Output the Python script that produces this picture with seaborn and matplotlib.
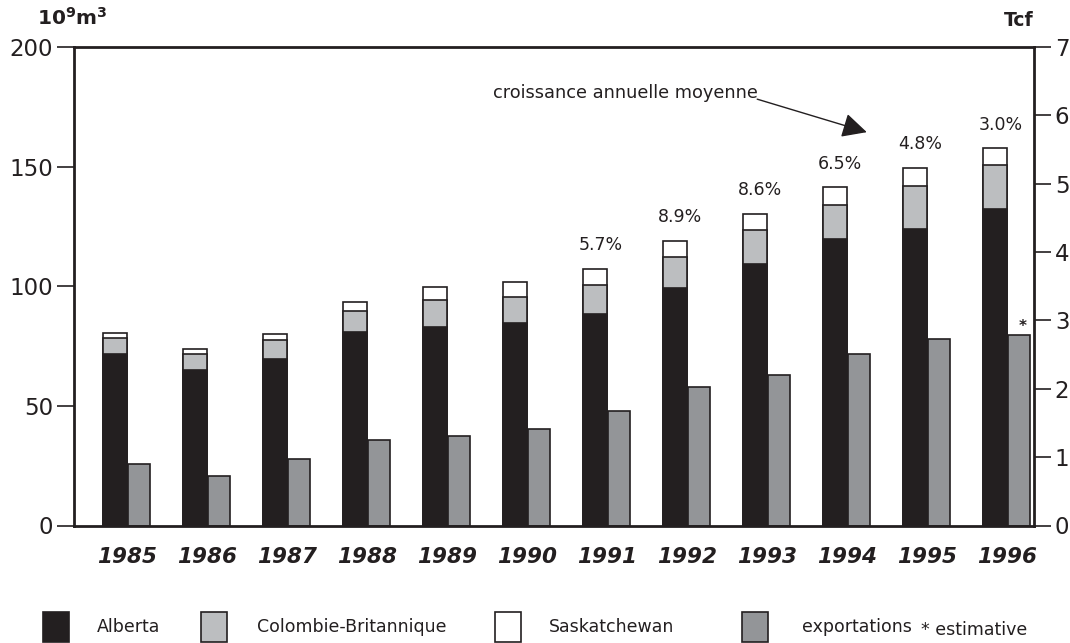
import numpy as np
import pandas as pd
import matplotlib
matplotlib.use('Agg')
import matplotlib.pyplot as plt
from matplotlib.patches import Rectangle
import seaborn as sns

# Data (10^9 m3)
years = [1985, 1986, 1987, 1988, 1989, 1990, 1991, 1992, 1993, 1994, 1995, 1996]
alberta = [71.5, 65.0, 69.5, 81.0, 82.9, 84.7, 88.5, 99.1, 109.1, 119.7, 123.9, 132.1]
colombie = [6.8, 6.6, 8.0, 8.7, 11.4, 10.9, 12.1, 13.1, 14.5, 14.2, 17.9, 18.6]
saskatchewan = [2.1, 2.3, 2.6, 3.9, 5.4, 6.0, 6.8, 6.8, 6.8, 7.5, 7.7, 6.9]
exportations = [25.7, 20.8, 27.8, 35.6, 37.5, 40.3, 47.7, 57.7, 62.7, 71.5, 77.9, 79.6]
growth_years = [1991, 1992, 1993, 1994, 1995, 1996]
growth_labels = ['5.7%', '8.9%', '8.6%', '6.5%', '4.8%', '3.0%']

c_alb = '#231f20'
c_cb = '#bcbec0'
c_sk = '#ffffff'
c_exp = '#939598'
edge = '#231f20'
ink = '#231f20'

sns.set_theme(style='white')
plt.rcParams['font.family'] = ['DejaVu Sans']
plt.rcParams['mathtext.fontset'] = 'dejavusans'

df = pd.DataFrame({'year': years, 'alb': alberta, 'cb': colombie,
                   'sk': saskatchewan, 'exp': exportations})
df['alb_cb'] = df['alb'] + df['cb']
df['total'] = df['alb_cb'] + df['sk']
df['x_exp'] = df['year'] + 0.30

fig = plt.figure(figsize=(10.7, 6.43), dpi=100)
ax = fig.add_axes([74 / 1070, 117.5 / 643, 960 / 1070, 478.5 / 643])

kw = dict(native_scale=True, errorbar=None, width=0.3, linewidth=1.2,
          edgecolor=edge, ax=ax)
sns.barplot(data=df, x='year', y='total', color=c_sk, saturation=1, **kw)
sns.barplot(data=df, x='year', y='alb_cb', color=c_cb, saturation=1, **kw)
sns.barplot(data=df, x='year', y='alb', color=c_alb, saturation=1, **kw)
kw['width'] = 0.28
sns.barplot(data=df, x='x_exp', y='exp', color=c_exp, saturation=1, **kw)

ax.set_xlim(1984.49, 1996.49)
ax.set_ylim(0, 200)
ax.set_xlabel('')
ax.set_ylabel('')
ax.set_yticks([0, 50, 100, 150, 200])
ax.set_xticks(np.array(years) + 0.155)
ax.set_xticklabels([str(y) for y in years], fontsize=15.5, fontweight='bold',
                   fontstyle='italic', color=ink)
ax.tick_params(axis='x', length=0, pad=15.5)
ax.tick_params(axis='y', left=True, length=12, width=1.2, pad=3,
               labelsize=16.5, colors=ink, direction='out')
for s in ax.spines.values():
    s.set_visible(True)
    s.set_linewidth(2.0)
    s.set_color(ink)

ax2 = ax.twinx()
ax2.set_ylim(0, 7)
ax2.set_yticks(range(0, 8))
ax2.tick_params(axis='y', right=True, length=12, width=1.2, pad=3,
                labelsize=16.5, colors=ink, direction='out')
for s in ax2.spines.values():
    s.set_visible(False)
ax2.grid(False)

# growth labels
for gy, gl in zip(growth_years, growth_labels):
    tot = df.loc[df['year'] == gy, 'total'].iloc[0]
    ax.annotate(gl, xy=(gy, tot), xytext=(4, 17), textcoords='offset points',
                ha='center', va='center', fontsize=12.5, color=ink)

# estimate marker on last export bar
ax.annotate('*', xy=(1996.3 + 0.05, exportations[-1]), xytext=(0, 1),
            textcoords='offset points', ha='center', va='bottom',
            fontsize=11, fontweight='bold', color=ink)

# annotation with arrow
ax.annotate('croissance annuelle moyenne', xy=(1994.40, 164.4),
            xytext=(1989.73, 180.7), ha='left', va='center', fontsize=12.8,
            color=ink)
ax.annotate('', xy=(1994.40, 164.4), xytext=(1993.03, 178.2),
            arrowprops=dict(arrowstyle='-|>', mutation_scale=38, lw=1,
                            color=ink, shrinkA=0, shrinkB=0))

# unit labels
fig.text(72 / 1070, 1 - 18 / 643, r'$\mathbf{10^9m^3}$', ha='center', va='center',
         fontsize=14.5, color=ink)
fig.text(1019 / 1070, 1 - 20 / 643, 'Tcf', ha='center', va='center',
         fontsize=13.5, fontweight='bold', color=ink)

# legend
legend_items = [('Alberta', c_alb, 43, 97), ('Colombie-Britannique', c_cb, 201, 257),
                ('Saskatchewan', c_sk, 495, 549), ('exportations', c_exp, 742, 802)]
for label, col, sx, tx in legend_items:
    fig.add_artist(Rectangle((sx / 1070, 1 - 642 / 643), 26 / 1070, 30 / 643,
                             transform=fig.transFigure, facecolor=col,
                             edgecolor=edge, linewidth=1.2))
    fig.text(tx / 1070, 1 - 627 / 643, label, ha='left', va='center',
             fontsize=12.5, color=ink)
fig.text(921 / 1070, 1 - 630 / 643, '* estimative', ha='left', va='center',
         fontsize=12.5, color=ink)

fig.savefig('out.png', dpi=100)
